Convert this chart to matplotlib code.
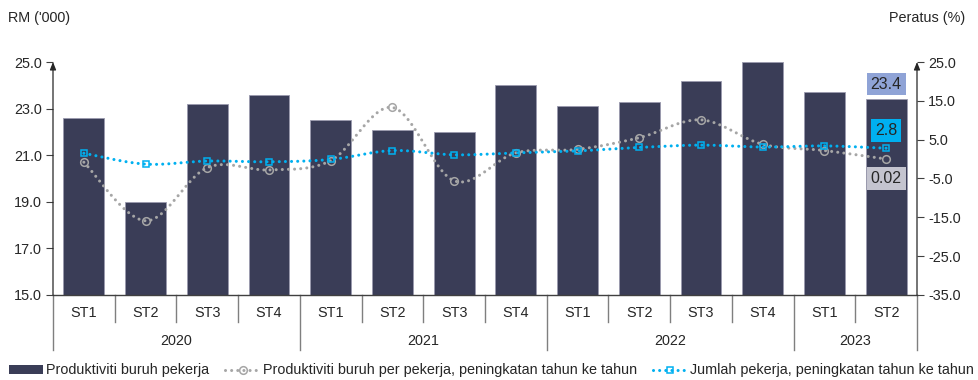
import numpy as np
import matplotlib
matplotlib.use("Agg")
import matplotlib.pyplot as plt
from matplotlib.patches import Patch
from matplotlib.lines import Line2D

plt.rcParams['font.family'] = ['Liberation Sans', 'DejaVu Sans']
plt.rcParams['font.size'] = 10

# Quarterly data
quarters = ["ST1", "ST2", "ST3", "ST4", "ST1", "ST2", "ST3", "ST4",
            "ST1", "ST2", "ST3", "ST4", "ST1", "ST2"]
years = ["2020", "2021", "2022", "2023"]
year_quarter_counts = [4, 4, 4, 2]

productivity_rm = [22.6, 19.0, 23.2, 23.6, 22.5, 22.1, 22.0, 24.0,
                   23.1, 23.3, 24.2, 25.0, 23.7, 23.4]
productivity_yoy = [-0.8, -15.9, -2.2, -2.8, -0.4, 13.3, -5.6, 1.6,
                    2.5, 5.5, 10.1, 3.8, 2.2, 0.02]
employment_yoy = [1.5, -1.3, -0.5, -0.7, -0.1, 2.2, 1.1, 1.6,
                  2.1, 3.0, 3.6, 3.1, 3.4, 2.8]

legend_labels = ["Produktiviti buruh pekerja",
                 "Produktiviti buruh per pekerja, peningkatan tahun ke tahun",
                 "Jumlah pekerja, peningkatan tahun ke tahun"]

BAR = "#3a3d57"
GRAY = "#a6a6a6"
BLUE = "#00b0f0"
TXT = "#262626"
FS = 10.4


def smooth(xs, ys, n=24):
    """Catmull-Rom curve through the given points."""
    p = np.column_stack([xs, ys]).astype(float)
    p = np.vstack([p[0], p, p[-1]])
    out = []
    for i in range(1, len(p) - 2):
        p0, p1, p2, p3 = p[i - 1], p[i], p[i + 1], p[i + 2]
        t = np.linspace(0, 1, n, endpoint=(i == len(p) - 3))[:, None]
        seg = 0.5 * ((2 * p1) + (-p0 + p2) * t +
                     (2 * p0 - 5 * p1 + 4 * p2 - p3) * t ** 2 +
                     (-p0 + 3 * p1 - 3 * p2 + p3) * t ** 3)
        out.append(seg)
    out = np.vstack(out)
    return out[:, 0], out[:, 1]


fig = plt.figure(figsize=(9.79, 3.8), dpi=100)
ax = fig.add_axes([53 / 979, 1 - 295 / 380, (917 - 53) / 979, (295 - 62) / 380])
x = np.arange(len(quarters))

ax.bar(x, productivity_rm, width=0.66, color=BAR, edgecolor="#9a9aae",
       linewidth=0.6, zorder=2)
ax.set_xlim(-0.5, len(quarters) - 0.5)
ax.set_ylim(15, 25)
ax.set_yticks(np.arange(15, 25.1, 2))
ax.set_yticklabels([f"{v:.1f}" for v in np.arange(15, 25.1, 2)])
ax.set_xticks([])
for s in ["top", "right", "left"]:
    ax.spines[s].set_visible(False)
ax.spines["bottom"].set_color("#404040")
ax.spines["bottom"].set_linewidth(1.0)
ax.tick_params(axis="y", direction="out", length=5, color="#404040",
               labelcolor=TXT, labelsize=FS, pad=3)

ax2 = ax.twinx()
ax2.set_ylim(-35, 25)
ax2.set_yticks(np.arange(-35, 25.1, 10))
ax2.set_yticklabels([f"{v:.1f}" for v in np.arange(-35, 25.1, 10)])
for s in ["top", "right", "left", "bottom"]:
    ax2.spines[s].set_visible(False)
ax2.tick_params(axis="y", direction="out", length=5, color="#404040",
                labelcolor=TXT, labelsize=FS, pad=3)

dot = (0, (0.01, 2.0))
sx, sy = smooth(x, productivity_yoy)
ax2.plot(sx, sy, color=GRAY, lw=2.2, linestyle=dot, dash_capstyle="round", zorder=3)
ax2.plot(x, productivity_yoy, linestyle="none", marker="o", ms=5.5, mfc="none",
         mec=GRAY, mew=1.1, zorder=4)
bx, by = smooth(x, employment_yoy)
ax2.plot(bx, by, color=BLUE, lw=2.2, linestyle=dot, dash_capstyle="round", zorder=5)
ax2.plot(x, employment_yoy, linestyle="none", marker="s", ms=5, mfc="none",
         mec=BLUE, mew=1.1, zorder=6)

# Axis lines with arrowheads
for a, xf in [(ax, 0.0), (ax2, 1.0)]:
    a.annotate("", xy=(xf, 1.0), xytext=(xf, 0.0), xycoords="axes fraction",
               arrowprops=dict(arrowstyle="-|>,head_length=0.45,head_width=0.18",
                               color="#262626", lw=0.9, shrinkA=0, shrinkB=0))

# Value labels for the latest quarter
last = len(quarters) - 1
ax.annotate(f"{productivity_rm[last]:.1f}", xy=(last, productivity_rm[last]),
            xytext=(0, 11), textcoords="offset points", ha="center", va="center",
            fontsize=11.5, color=TXT,
            bbox=dict(boxstyle="square,pad=0.25", fc="#8fa3d6", ec="none"), zorder=7)
ax2.annotate(f"{employment_yoy[last]:.1f}", xy=(last, employment_yoy[last]),
             xytext=(0, 13), textcoords="offset points", ha="center", va="center",
             fontsize=11.5, color=TXT,
             bbox=dict(boxstyle="square,pad=0.25", fc=BLUE, ec="none"), zorder=7)
ax2.annotate(f"{productivity_yoy[last]:.2f}", xy=(last, productivity_yoy[last]),
             xytext=(0, -14), textcoords="offset points", ha="center", va="center",
             fontsize=11.5, color=TXT,
             bbox=dict(boxstyle="square,pad=0.25", fc="#c4c4cf", ec="none"), zorder=7)

# Two-level category axis
xt = ax.get_xaxis_transform()
h = 233.0
for i, q in enumerate(quarters):
    ax.text(i, -18 / h, q, transform=xt, ha="center", va="center",
            fontsize=FS, color=TXT)
bounds = np.cumsum([0] + year_quarter_counts)
for k in range(len(quarters) + 1):
    bottom = -55 / h if k in bounds else -27 / h
    ax.plot([k - 0.5, k - 0.5], [0, bottom], transform=xt, color="#7f7f7f",
            lw=1.0, clip_on=False)
for yr, b0, b1 in zip(years, bounds[:-1], bounds[1:]):
    ax.text((b0 + b1 - 1) / 2, -46 / h, yr, transform=xt, ha="center",
            va="center", fontsize=FS, color=TXT)

fig.text(8 / 979, 1 - 18 / 380, "RM ('000)", ha="left", va="center",
         fontsize=FS, color=TXT)
fig.text(965 / 979, 1 - 18 / 380, "Peratus (%)", ha="right", va="center",
         fontsize=FS, color=TXT)

handles = [
    Patch(facecolor=BAR, edgecolor="none"),
    Line2D([], [], color=GRAY, lw=2.2, linestyle=dot, dash_capstyle="round",
           marker="o", ms=5.5, mfc="none", mec=GRAY, mew=1.1),
    Line2D([], [], color=BLUE, lw=2.2, linestyle=dot, dash_capstyle="round",
           marker="s", ms=5, mfc="none", mec=BLUE, mew=1.1),
]
fig.legend(handles, legend_labels, loc="lower left", bbox_to_anchor=(0.0, -0.016),
           ncol=3, frameon=False, fontsize=FS, handlelength=2.4,
           handleheight=0.6, handletextpad=0.2, columnspacing=1.1,
           borderaxespad=0.2, labelcolor=TXT)

fig.savefig("out.png", dpi=100)
